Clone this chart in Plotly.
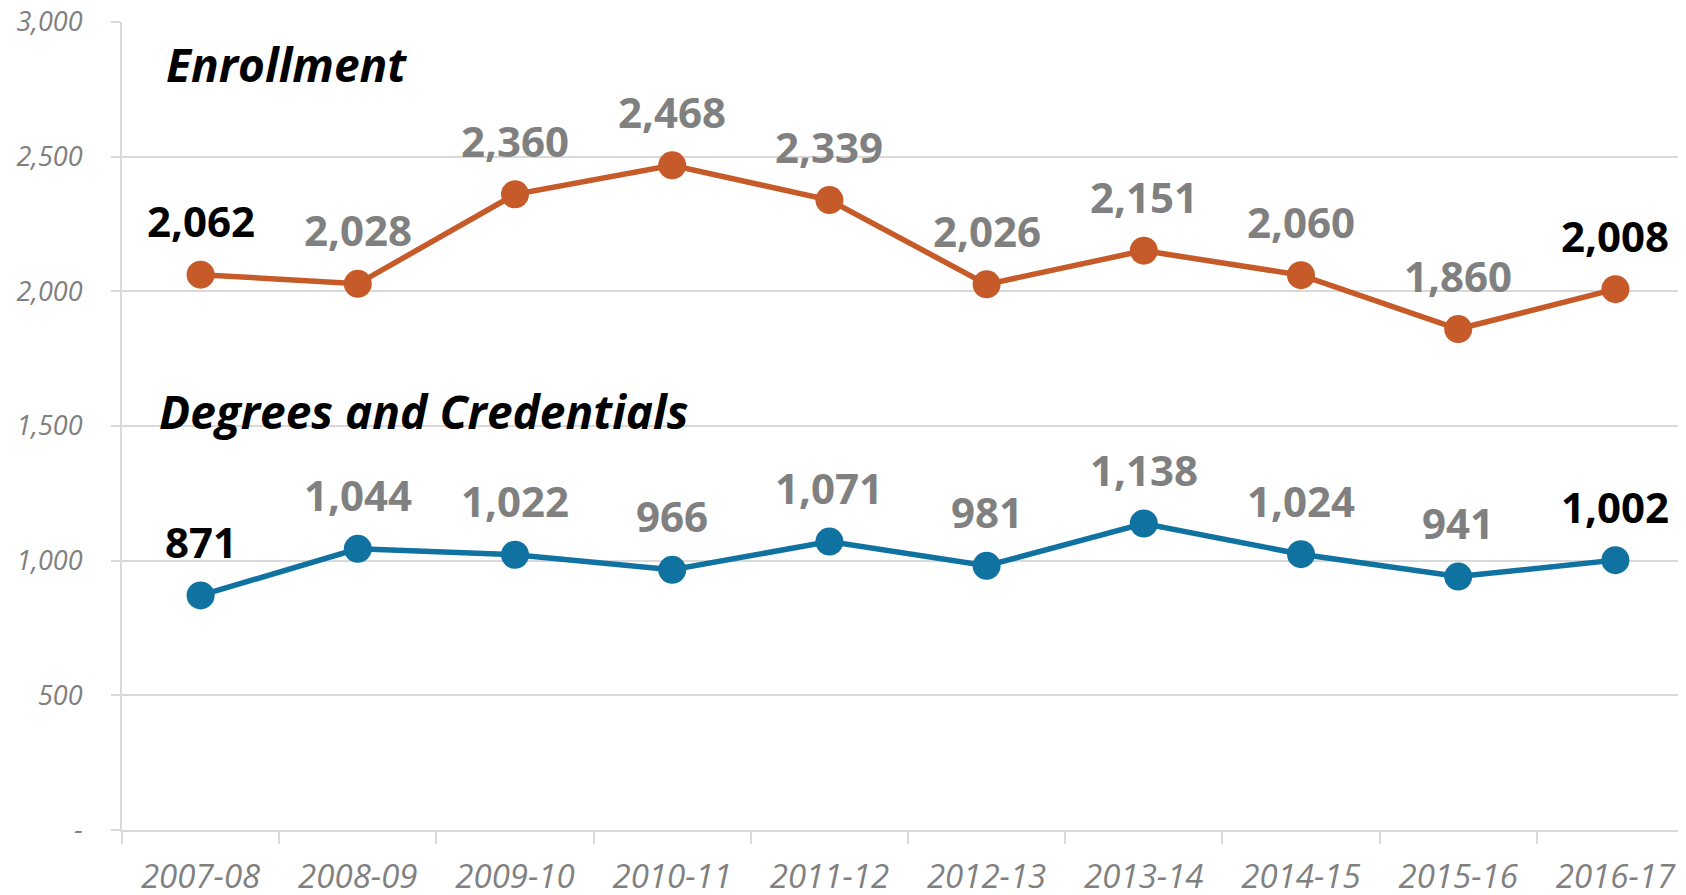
import plotly.graph_objects as go

years = ["2007-08", "2008-09", "2009-10", "2010-11", "2011-12",
         "2012-13", "2013-14", "2014-15", "2015-16", "2016-17"]
enrollment = [2062, 2028, 2360, 2468, 2339, 2026, 2151, 2060, 1860, 2008]
degrees = [871, 1044, 1022, 966, 1071, 981, 1138, 1024, 941, 1002]
y_tickvals = [0, 500, 1000, 1500, 2000, 2500, 3000]
y_ticktext = ["-", "500", "1,000", "1,500", "2,000", "2,500", "3,000"]

ORANGE = "#C65A28"
BLUE = "#1072A1"
GRAY = "#808080"
GRID = "#D9D9D9"
FONT = "Open Sans"

fig = go.Figure()
for vals, color in [(enrollment, ORANGE), (degrees, BLUE)]:
    fig.add_trace(go.Scatter(
        x=years, y=vals, mode="lines+markers",
        line=dict(color=color, width=5.5),
        marker=dict(color=color, size=28),
        hoverinfo="skip", showlegend=False,
    ))

annotations = []
for vals in (enrollment, degrees):
    n = len(vals)
    for i, v in enumerate(vals):
        col = "black" if i in (0, n - 1) else GRAY
        annotations.append(dict(
            x=years[i], y=v, xref="x", yref="y", text=f"{v:,}",
            showarrow=False, yanchor="middle", xanchor="center", yshift=54,
            font=dict(family=FONT, size=42, color=col, weight="bold"),
        ))

annotations.append(dict(
    x=-0.23, y=2844, xref="x", yref="y", text="<b><i>Enrollment</i></b>",
    showarrow=False, xanchor="left", yanchor="middle",
    font=dict(family=FONT, size=46, color="black"),
))
annotations.append(dict(
    x=-0.28, y=1556, xref="x", yref="y", text="<b><i>Degrees and Credentials</i></b>",
    showarrow=False, xanchor="left", yanchor="middle",
    font=dict(family=FONT, size=46, color="black"),
))

fig.update_layout(
    width=1686, height=895,
    margin=dict(l=114, r=0, t=14, b=73),
    plot_bgcolor="white", paper_bgcolor="white",
    annotations=annotations,
    xaxis=dict(
        type="category", range=[-0.5, 9.5], automargin=False,
        showgrid=False, showline=True, linecolor=GRID, linewidth=2,
        ticks="outside", tickson="boundaries", ticklen=12, tickcolor=GRID, tickwidth=2,
        tickfont=dict(family=FONT, size=33, color=GRAY, style="italic"),
        ticklabelstandoff=16, ticklabeloverflow="allow",
    ),
    yaxis=dict(
        range=[0, 3000], tickvals=y_tickvals, ticktext=y_ticktext, automargin=False,
        showgrid=True, gridcolor=GRID, gridwidth=2,
        showline=True, linecolor=GRID, linewidth=2,
        ticks="outside", ticklen=9, tickcolor=GRID, tickwidth=2,
        tickfont=dict(family=FONT, size=27, color=GRAY, style="italic"),
        ticklabelstandoff=23, zeroline=False, ticklabeloverflow="allow",
    ),
)

fig.write_html("out.html")
